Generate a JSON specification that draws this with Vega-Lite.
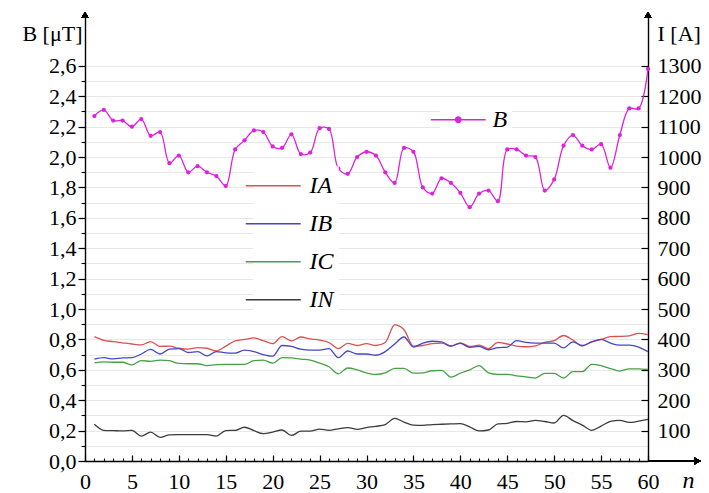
{
  "$schema": "https://vega.github.io/schema/vega-lite/v6.json",
  "width": 563,
  "height": 446,
  "autosize": {"type": "none"},
  "padding": {"left": 85, "top": 15, "right": 61, "bottom": 32},
  "background": "white",
  "config": {"view": {"stroke": null}, "font": "Liberation Serif"},
  "datasets": {
    "d": [
      {"n":1,"B":2.27,"IA":409,"IB":335,"IC":323,"IN":121},
      {"n":2,"B":2.31,"IA":397,"IB":340,"IC":326,"IN":101},
      {"n":3,"B":2.24,"IA":393,"IB":336,"IC":325,"IN":100},
      {"n":4,"B":2.24,"IA":389,"IB":339,"IC":325,"IN":99},
      {"n":5,"B":2.20,"IA":385,"IB":340,"IC":316,"IN":101},
      {"n":6,"B":2.25,"IA":382,"IB":352,"IC":330,"IN":82},
      {"n":7,"B":2.14,"IA":393,"IB":367,"IC":328,"IN":95},
      {"n":8,"B":2.165,"IA":377,"IB":352,"IC":332,"IN":78},
      {"n":9,"B":1.96,"IA":378,"IB":368,"IC":330,"IN":86},
      {"n":10,"B":2.01,"IA":371,"IB":370,"IC":321,"IN":87},
      {"n":11,"B":1.90,"IA":368,"IB":357,"IC":320,"IN":87},
      {"n":12,"B":1.94,"IA":373,"IB":360,"IC":320,"IN":87},
      {"n":13,"B":1.90,"IA":371,"IB":346,"IC":314,"IN":87},
      {"n":14,"B":1.875,"IA":362,"IB":360,"IC":317,"IN":82},
      {"n":15,"B":1.81,"IA":378,"IB":356,"IC":318,"IN":100},
      {"n":16,"B":2.05,"IA":395,"IB":355,"IC":318,"IN":101},
      {"n":17,"B":2.11,"IA":400,"IB":365,"IC":318,"IN":111},
      {"n":18,"B":2.175,"IA":405,"IB":360,"IC":330,"IN":100},
      {"n":19,"B":2.165,"IA":396,"IB":350,"IC":332,"IN":90},
      {"n":20,"B":2.07,"IA":386,"IB":345,"IC":322,"IN":95},
      {"n":21,"B":2.06,"IA":409,"IB":380,"IC":340,"IN":102},
      {"n":22,"B":2.15,"IA":395,"IB":377,"IC":339,"IN":84},
      {"n":23,"B":2.02,"IA":408,"IB":368,"IC":335,"IN":98},
      {"n":24,"B":2.03,"IA":402,"IB":365,"IC":332,"IN":98},
      {"n":25,"B":2.19,"IA":398,"IB":365,"IC":322,"IN":105},
      {"n":26,"B":2.185,"IA":390,"IB":370,"IC":310,"IN":101},
      {"n":27,"B":1.925,"IA":370,"IB":340,"IC":287,"IN":106},
      {"n":28,"B":1.89,"IA":387,"IB":362,"IC":306,"IN":110},
      {"n":29,"B":2.00,"IA":380,"IB":352,"IC":300,"IN":104},
      {"n":30,"B":2.035,"IA":386,"IB":352,"IC":290,"IN":110},
      {"n":31,"B":2.01,"IA":380,"IB":348,"IC":285,"IN":114},
      {"n":32,"B":1.90,"IA":390,"IB":360,"IC":290,"IN":120},
      {"n":33,"B":1.83,"IA":448,"IB":385,"IC":305,"IN":140},
      {"n":34,"B":2.06,"IA":432,"IB":408,"IC":305,"IN":128},
      {"n":35,"B":2.035,"IA":378,"IB":375,"IC":289,"IN":118},
      {"n":36,"B":1.80,"IA":380,"IB":388,"IC":290,"IN":117},
      {"n":37,"B":1.76,"IA":386,"IB":394,"IC":297,"IN":120},
      {"n":38,"B":1.86,"IA":388,"IB":392,"IC":298,"IN":121},
      {"n":39,"B":1.83,"IA":378,"IB":378,"IC":276,"IN":122},
      {"n":40,"B":1.765,"IA":389,"IB":387,"IC":289,"IN":123},
      {"n":41,"B":1.67,"IA":377,"IB":374,"IC":300,"IN":112},
      {"n":42,"B":1.76,"IA":381,"IB":377,"IC":314,"IN":99},
      {"n":43,"B":1.78,"IA":370,"IB":366,"IC":290,"IN":102},
      {"n":44,"B":1.71,"IA":390,"IB":373,"IC":285,"IN":122},
      {"n":45,"B":2.05,"IA":385,"IB":375,"IC":285,"IN":124},
      {"n":46,"B":2.05,"IA":378,"IB":396,"IC":280,"IN":130},
      {"n":47,"B":2.01,"IA":376,"IB":390,"IC":277,"IN":129},
      {"n":48,"B":2.00,"IA":379,"IB":388,"IC":273,"IN":134},
      {"n":49,"B":1.78,"IA":390,"IB":388,"IC":288,"IN":130},
      {"n":50,"B":1.853,"IA":396,"IB":388,"IC":288,"IN":125},
      {"n":51,"B":2.075,"IA":413,"IB":372,"IC":273,"IN":150},
      {"n":52,"B":2.145,"IA":398,"IB":392,"IC":294,"IN":133},
      {"n":53,"B":2.075,"IA":378,"IB":380,"IC":294,"IN":118},
      {"n":54,"B":2.05,"IA":392,"IB":392,"IC":318,"IN":101},
      {"n":55,"B":2.085,"IA":400,"IB":400,"IC":314,"IN":115},
      {"n":56,"B":1.93,"IA":409,"IB":388,"IC":304,"IN":130},
      {"n":57,"B":2.145,"IA":410,"IB":381,"IC":296,"IN":134},
      {"n":58,"B":2.32,"IA":412,"IB":381,"IC":303,"IN":127},
      {"n":59,"B":2.32,"IA":420,"IB":375,"IC":303,"IN":131},
      {"n":60,"B":2.58,"IA":416,"IB":360,"IC":301,"IN":137}
    ]
  },
  "data": {"name": "d"},
  "layer": [
    {
      "mark": {"type": "point", "opacity": 0},
      "encoding": {
        "x": {
          "field": "n", "type": "quantitative",
          "scale": {"domain": [0, 60], "nice": false, "zero": false},
          "axis": {
            "orient": "bottom", "title": null,
            "values": [0,1,2,3,4,5,6,7,8,9,10,11,12,13,14,15,16,17,18,19,20,21,22,23,24,25,26,27,28,29,30,31,32,33,34,35,36,37,38,39,40,41,42,43,44,45,46,47,48,49,50,51,52,53,54,55,56,57,58,59,60],
            "labels": false, "domain": false, "grid": false,
            "tickSize": -3, "tickColor": "black", "tickWidth": 1.1
          }
        },
        "y": {
          "field": "B", "type": "quantitative",
          "scale": {"domain": [0, 2.935], "nice": false},
          "axis": {
            "orient": "left", "title": null,
            "values": [0,0.1,0.2,0.3,0.4,0.5,0.6,0.7,0.8,0.9,1.0,1.1,1.2,1.3,1.4,1.5,1.6,1.7,1.8,1.9,2.0,2.1,2.2,2.3,2.4,2.5,2.6],
            "labels": false, "domain": false,
            "tickSize": 4, "tickColor": "black", "tickWidth": 1.1,
            "grid": true, "gridColor": "#e8e8e8", "gridWidth": 1
          }
        }
      }
    },
    {
      "mark": {"type": "line", "interpolate": "catmull-rom", "strokeWidth": 1.3},
      "encoding": {
        "x": {
          "field": "n", "type": "quantitative",
          "axis": {
            "orient": "bottom",
            "title": "n", "titleFontStyle": "italic", "titleFontWeight": "normal", "titleFontSize": 24,
            "titleColor": "black", "titleX": 603, "titleY": 19, "titleBaseline": "middle", "titleAlign": "center",
            "values": [0,5,10,15,20,25,30,35,40,45,50,55,60],
            "labelFontSize": 22, "labelColor": "black", "labelFlush": false, "labelOverlap": false,
            "labelPadding": 16, "tickSize": -6,
            "tickColor": "black", "tickWidth": 1.2,
            "domainColor": "black", "domainWidth": 1.4, "grid": false
          }
        },
        "y": {
          "field": "B", "type": "quantitative",
          "scale": {"domain": [0, 2.935], "nice": false},
          "axis": {
            "orient": "left",
            "title": "B [μT]", "titleAngle": 0, "titleAlign": "right", "titleBaseline": "middle",
            "titleX": -3, "titleY": 18, "titleFontSize": 22, "titleFontWeight": "normal", "titleColor": "black",
            "values": [0,0.2,0.4,0.6,0.8,1.0,1.2,1.4,1.6,1.8,2.0,2.2,2.4,2.6],
            "labelExpr": "replace(format(datum.value, '.1f'), '.', ',')",
            "labelFontSize": 22, "labelColor": "black", "labelOverlap": false, "labelPadding": 2, "labelFlush": false,
            "tickSize": 7, "tickColor": "black", "tickWidth": 1.2,
            "domainColor": "black", "domainWidth": 1.4, "grid": false
          }
        },
        "color": {
          "datum": "B",
          "scale": {"domain": ["B"], "range": ["#dd22dd"]},
          "legend": {
            "title": null, "orient": "none", "legendX": 354.75, "legendY": 86.25,
            "fillColor": "white", "padding": 4,
            "symbolType": "M-2,0H2M-0.2,0A0.2,0.2 0 1,0 0.2,0A0.2,0.2 0 1,0 -0.2,0Z",
            "symbolSize": 756, "symbolStrokeWidth": 1.3,
            "labelFontSize": 24, "labelFontStyle": "italic", "labelColor": "black", "labelOffset": 19.75,
            "encode": {"symbols": {"update": {"fill": {"value": "#dd22dd"}, "stroke": {"value": "#dd22dd"}}}}
          }
        }
      }
    },
    {
      "mark": {"type": "point", "filled": true, "size": 18, "color": "#dd22dd", "opacity": 1},
      "encoding": {
        "x": {"field": "n", "type": "quantitative", "axis": null},
        "y": {"field": "B", "type": "quantitative", "scale": {"domain": [0, 2.935], "nice": false}, "axis": null}
      }
    },
    {
      "mark": {"type": "point", "shape": "triangle-up", "filled": true, "size": 45, "color": "black", "opacity": 1},
      "encoding": {
        "x": {"datum": 0, "type": "quantitative", "axis": null},
        "y": {"datum": 2.935, "type": "quantitative", "scale": {"domain": [0, 2.935], "nice": false}, "axis": null}
      }
    },
    {
      "mark": {"type": "point", "shape": "triangle-up", "filled": true, "size": 45, "color": "black", "opacity": 1},
      "encoding": {
        "x": {"datum": 60, "type": "quantitative", "axis": null},
        "y": {"datum": 2.935, "type": "quantitative", "scale": {"domain": [0, 2.935], "nice": false}, "axis": null}
      }
    },
    {
      "mark": {"type": "rule", "color": "black", "strokeWidth": 1.4},
      "encoding": {
        "x": {"datum": 60, "type": "quantitative", "axis": null},
        "x2": {"datum": 65.1},
        "y": {"datum": 0, "type": "quantitative", "scale": {"domain": [0, 2.935], "nice": false}, "axis": null}
      }
    },
    {
      "mark": {"type": "point", "shape": "triangle-right", "filled": true, "size": 45, "color": "black", "opacity": 1},
      "encoding": {
        "x": {"datum": 65.3, "type": "quantitative", "axis": null},
        "y": {"datum": 0, "type": "quantitative", "scale": {"domain": [0, 2.935], "nice": false}, "axis": null}
      }
    },
    {
      "transform": [{"fold": ["IA", "IB", "IC", "IN"], "as": ["key", "value"]}],
      "mark": {"type": "line", "interpolate": "monotone", "strokeWidth": 1.3},
      "encoding": {
        "x": {"field": "n", "type": "quantitative", "axis": null},
        "y": {
          "field": "value", "type": "quantitative",
          "scale": {"domain": [0, 1467.5], "nice": false},
          "axis": {
            "orient": "right",
            "title": "I [A]", "titleAngle": 0, "titleAlign": "left", "titleBaseline": "middle",
            "titleX": 9, "titleY": 18, "titleFontSize": 22, "titleFontWeight": "normal", "titleColor": "black",
            "values": [100,200,300,400,500,600,700,800,900,1000,1100,1200,1300],
            "format": "d",
            "labelFontSize": 22, "labelColor": "black", "labelOverlap": false, "labelFlush": false,
            "labelPadding": 16, "tickSize": -7, "tickColor": "black", "tickWidth": 1.2,
            "domainColor": "black", "domainWidth": 1.4, "grid": false
          }
        },
        "color": {
          "field": "key", "type": "nominal",
          "scale": {"domain": ["IA", "IB", "IC", "IN"], "range": ["#dc5050", "#4646c8", "#46a046", "#3c3c3c"]},
          "legend": {
            "title": null, "orient": "none", "legendX": 168.75, "legendY": 151.25,
            "fillColor": "white", "padding": 5,
            "symbolType": "M-2,0H2", "symbolSize": 756, "symbolStrokeWidth": 1.3,
            "labelFontSize": 24, "labelFontStyle": "italic", "labelColor": "black", "labelOffset": 21.75,
            "rowPadding": 11
          }
        }
      }
    }
  ],
  "resolve": {"scale": {"y": "independent", "color": "independent"}, "axis": {"x": "independent"}}
}
